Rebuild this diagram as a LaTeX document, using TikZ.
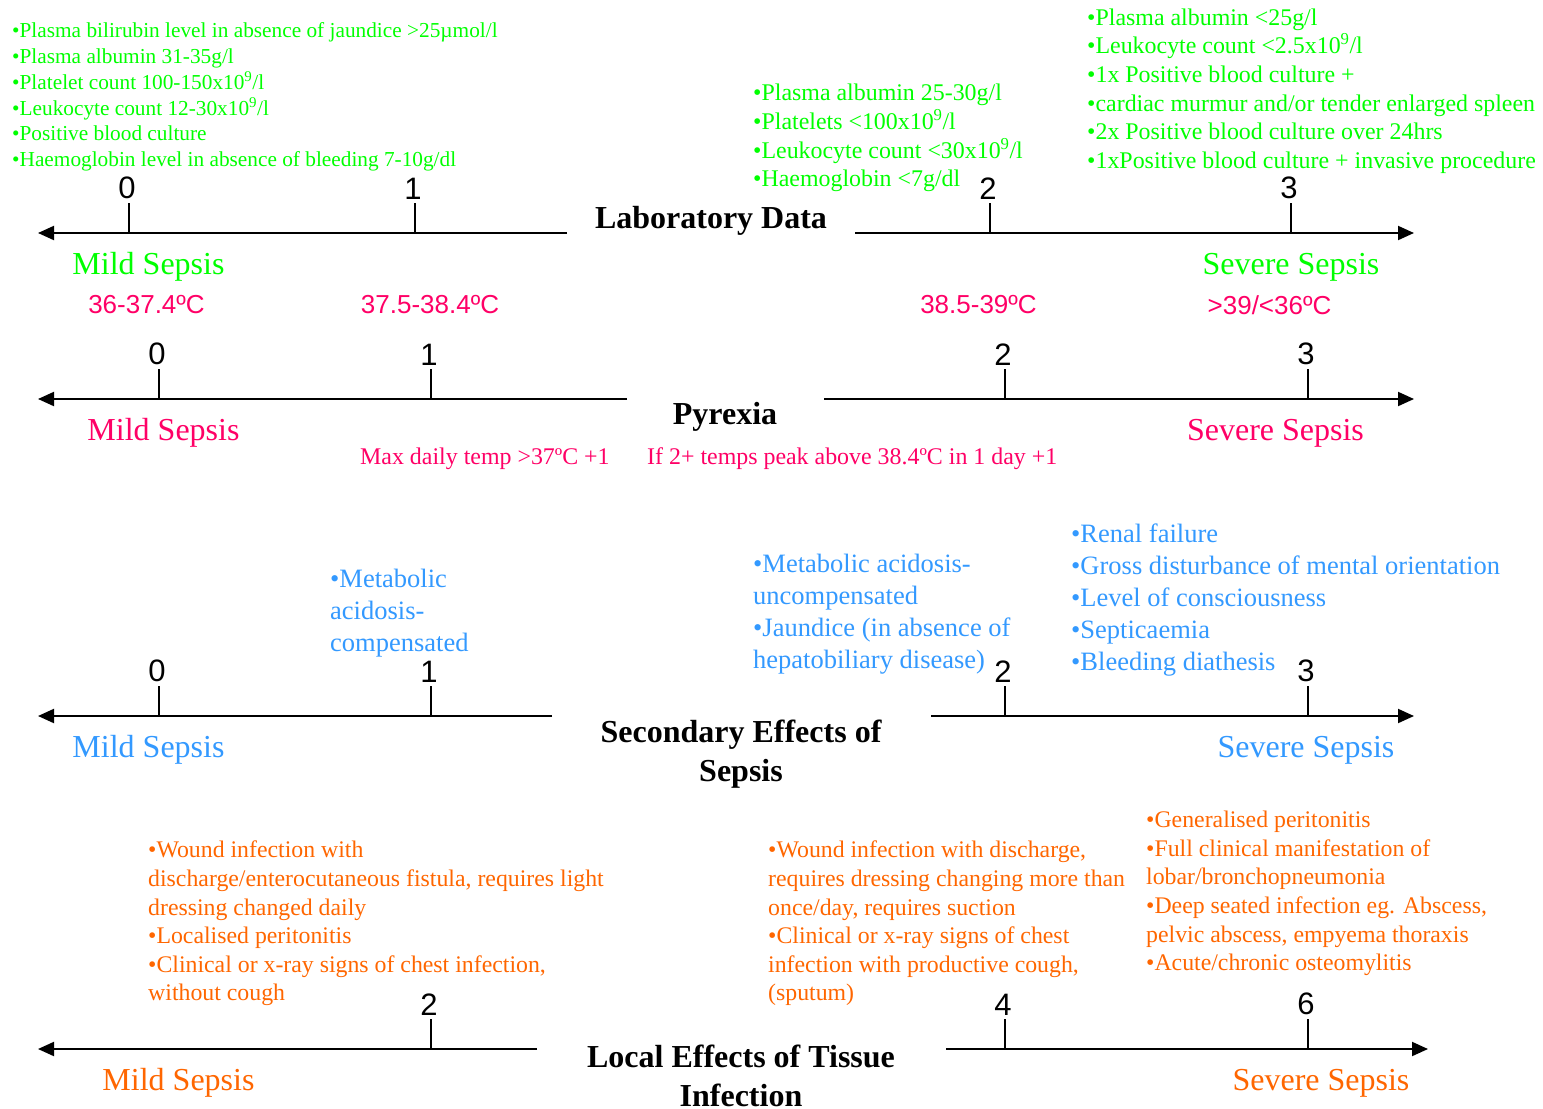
\documentclass[tikz,border=0pt]{standalone}
\usepackage{fontspec}
\setmainfont{Liberation Serif}
\newfontfamily\arialfont{Liberation Sans}
\usetikzlibrary{arrows.meta}

\definecolor{labgreen}{RGB}{0,255,0}
\definecolor{pyrpink}{RGB}{255,0,102}
\definecolor{secblue}{RGB}{51,153,255}
\definecolor{locorange}{RGB}{255,102,0}

\tikzset{
  axisline/.style={line width=2pt, -{Triangle[length=16pt,width=14pt]}},
  tickline/.style={line width=1.6pt},
  num/.style={font=\arialfont\fontsize{31}{36}\selectfont, anchor=south, inner sep=0pt, yshift=3pt, xshift=-2pt},
  serifshift/.style={yshift=-3pt},
  heading/.style={font=\bfseries\fontsize{32}{39}\selectfont, align=center, inner sep=0pt, serifshift},
  sepsis/.style={font=\fontsize{32}{38}\selectfont, inner sep=0pt, serifshift},
  temp/.style={font=\arialfont\fontsize{26}{31}\selectfont, inner sep=0pt, text=pyrpink},
  note/.style={font=\fontsize{23.9}{28}\selectfont, inner sep=0pt, anchor=west, text=pyrpink, serifshift},
  list/.style={anchor=west, align=left, inner sep=0pt, serifshift},
  smallgreen/.style={list, text=labgreen, font=\fontsize{21.3}{25.7}\selectfont},
  biggreen/.style={list, text=labgreen, font=\fontsize{23.9}{28.7}\selectfont},
  bluelist/.style={list, text=secblue, font=\fontsize{26.5}{32}\selectfont},
  orangelist/.style={list, text=locorange, font=\fontsize{23.8}{28.6}\selectfont},
}
\newcommand{\ninth}{10\textsuperscript{9}}

\begin{document}
\begin{tikzpicture}[x=1pt,y=-1pt]
\useasboundingbox (0,0) rectangle (1543,1109);

% ---------------- Laboratory data ----------------
\coordinate (labLa) at (567,233);  \coordinate (labLb) at (38,233);
\coordinate (labRa) at (855,233);  \coordinate (labRb) at (1414,233);
\draw[axisline] (labLa) -- (labLb);
\draw[axisline] (labRa) -- (labRb);
\coordinate (labT0) at (129,233);  \coordinate (labT1) at (415,233);
\coordinate (labT2) at (990,233);  \coordinate (labT3) at (1291,233);
\draw[tickline] (labT0) -- ++(0,-30) node[num] (labN0) {0};
\draw[tickline] (labT1) -- ++(0,-30) node[num] (labN1) {1};
\draw[tickline] (labT2) -- ++(0,-30) node[num] (labN2) {2};
\draw[tickline] (labT3) -- ++(0,-30) node[num] (labN3) {3};
\node[heading] (labTitle) at (711,218) {Laboratory Data};
\node[sepsis, text=labgreen] (labMild) at (148.5,264) {Mild Sepsis};
\node[sepsis, text=labgreen] (labSevere) at (1291,264) {Severe Sepsis};

\node[smallgreen] (labList1) at (12,94) {%
•Plasma bilirubin level in absence of jaundice >25µmol/l\\
•Plasma albumin 31-35g/l\\
•Platelet count 100-150x\ninth/l\\
•Leukocyte count 12-30x\ninth/l\\
•Positive blood culture\\
•Haemoglobin level in absence of bleeding 7-10g/dl};
\node[biggreen] (labList2) at (753,135) {%
•Plasma albumin 25-30g/l\\
•Platelets <100x\ninth/l\\
•Leukocyte count <30x\ninth/l\\
•Haemoglobin <7g/dl};
\node[biggreen] (labList3) at (1087,88) {%
•Plasma albumin <25g/l\\
•Leukocyte count <2.5x\ninth/l\\
•1x Positive blood culture +\\
•cardiac murmur and/or tender enlarged spleen\\
•2x Positive blood culture over 24hrs\\
•1xPositive blood culture + invasive procedure};

% ---------------- Pyrexia ----------------
\coordinate (pyrLa) at (627,399);  \coordinate (pyrLb) at (38,399);
\coordinate (pyrRa) at (824,399);  \coordinate (pyrRb) at (1414,399);
\draw[axisline] (pyrLa) -- (pyrLb);
\draw[axisline] (pyrRa) -- (pyrRb);
\coordinate (pyrT0) at (159,399);  \coordinate (pyrT1) at (431,399);
\coordinate (pyrT2) at (1005,399); \coordinate (pyrT3) at (1308,399);
\draw[tickline] (pyrT0) -- ++(0,-30) node[num] (pyrN0) {0};
\draw[tickline] (pyrT1) -- ++(0,-30) node[num] (pyrN1) {1};
\draw[tickline] (pyrT2) -- ++(0,-30) node[num] (pyrN2) {2};
\draw[tickline] (pyrT3) -- ++(0,-30) node[num] (pyrN3) {3};
\node[heading] (pyrTitle) at (725,414) {Pyrexia};
\node[sepsis, text=pyrpink] (pyrMild) at (163.5,430) {Mild Sepsis};
\node[sepsis, text=pyrpink] (pyrSevere) at (1275.5,430) {Severe Sepsis};
\node[temp] (pyrTemp0) at (146.5,305) {36-37.4ºC};
\node[temp] (pyrTemp1) at (430,305) {37.5-38.4ºC};
\node[temp] (pyrTemp2) at (978.5,305) {38.5-39ºC};
\node[temp] (pyrTemp3) at (1269.5,305) {>39/<36ºC};
\node[note] (pyrNote1) at (360,456) {Max daily temp >37ºC +1};
\node[note] (pyrNote2) at (647,456) {If 2+ temps peak above 38.4ºC in 1 day +1};

% ---------------- Secondary effects ----------------
\coordinate (secLa) at (552,716);  \coordinate (secLb) at (38,716);
\coordinate (secRa) at (931,716);  \coordinate (secRb) at (1414,716);
\draw[axisline] (secLa) -- (secLb);
\draw[axisline] (secRa) -- (secRb);
\coordinate (secT0) at (159,716);  \coordinate (secT1) at (431,716);
\coordinate (secT2) at (1005,716); \coordinate (secT3) at (1308,716);
\draw[tickline] (secT0) -- ++(0,-30) node[num] (secN0) {0};
\draw[tickline] (secT1) -- ++(0,-30) node[num] (secN1) {1};
\draw[tickline] (secT2) -- ++(0,-30) node[num] (secN2) {2};
\draw[tickline] (secT3) -- ++(0,-30) node[num] (secN3) {3};
\node[heading] (secTitle) at (741,751.5) {Secondary Effects of\\Sepsis};
\node[sepsis, text=secblue] (secMild) at (148.5,747) {Mild Sepsis};
\node[sepsis, text=secblue] (secSevere) at (1306,747) {Severe Sepsis};
\node[bluelist] (secList1) at (330,610) {%
•Metabolic\\
acidosis-\\
compensated};
\node[bluelist] (secList2) at (753,611) {%
•Metabolic acidosis-\\
uncompensated\\
•Jaundice (in absence of\\
hepatobiliary disease)};
\node[bluelist] (secList3) at (1071,597) {%
•Renal failure\\
•Gross disturbance of mental orientation\\
•Level of consciousness\\
•Septicaemia\\
•Bleeding diathesis};

% ---------------- Local effects of tissue infection ----------------
\coordinate (locLa) at (537,1049); \coordinate (locLb) at (38,1049);
\coordinate (locRa) at (946,1049); \coordinate (locRb) at (1428,1049);
\draw[axisline] (locLa) -- (locLb);
\draw[axisline] (locRa) -- (locRb);
\coordinate (locT2) at (431,1049); \coordinate (locT4) at (1005,1049);
\coordinate (locT6) at (1308,1049);
\draw[tickline] (locT2) -- ++(0,-30) node[num] (locN2) {2};
\draw[tickline] (locT4) -- ++(0,-30) node[num] (locN4) {4};
\draw[tickline] (locT6) -- ++(0,-30) node[num] (locN6) {6};
\node[heading] (locTitle) at (741,1073) {Local Effects of Tissue\\Infection};
\node[sepsis, text=locorange] (locMild) at (178.5,1080) {Mild Sepsis};
\node[sepsis, text=locorange] (locSevere) at (1321,1080) {Severe Sepsis};
\node[orangelist] (locList1) at (148,920.5) {%
•Wound infection with\\
discharge/enterocutaneous fistula, requires light\\
dressing changed daily\\
•Localised peritonitis\\
•Clinical or x-ray signs of chest infection,\\
without cough};
\node[orangelist] (locList2) at (768,920.5) {%
•Wound infection with discharge,\\
requires dressing changing more than\\
once/day, requires suction\\
•Clinical or x-ray signs of chest\\
infection with productive cough,\\
(sputum)};
\node[orangelist] (locList3) at (1146,890.5) {%
•Generalised peritonitis\\
•Full clinical manifestation of\\
lobar/bronchopneumonia\\
•Deep seated infection eg. Abscess,\\
pelvic abscess, empyema thoraxis\\
•Acute/chronic osteomylitis};
\end{tikzpicture}
\end{document}
